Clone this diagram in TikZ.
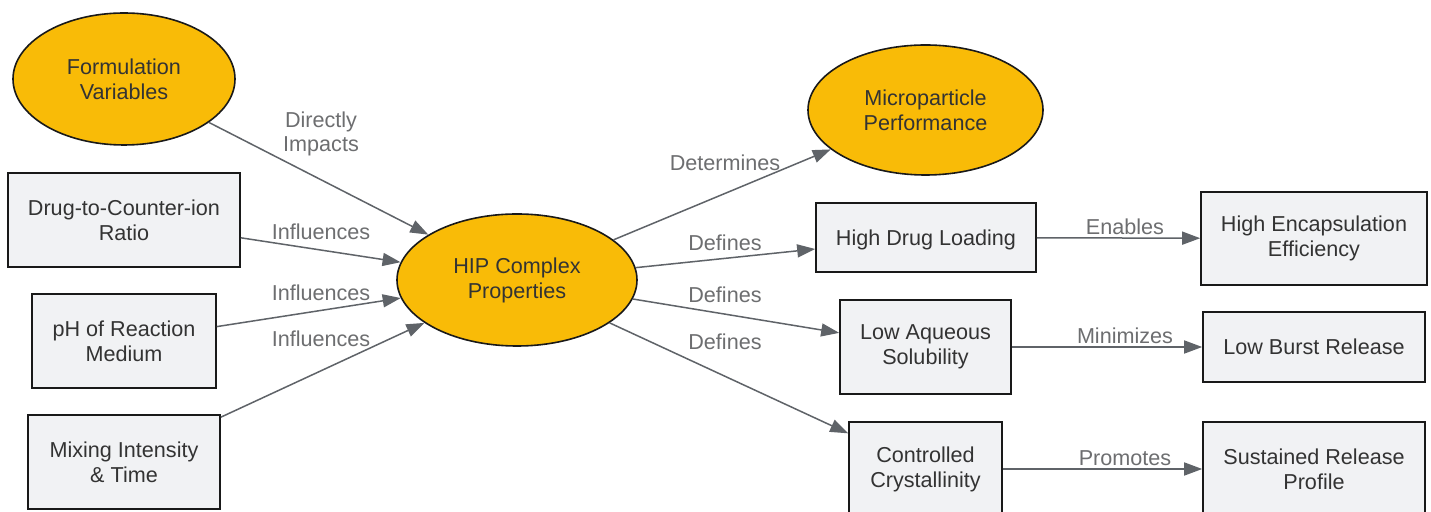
\documentclass[tikz,border=0pt]{standalone}
\usepackage{fontspec}
\setmainfont{Liberation Sans}
\usetikzlibrary{arrows.meta,shapes.geometric}
\definecolor{orng}{HTML}{F9BB07}
\definecolor{boxfill}{HTML}{F1F2F4}
\definecolor{txt}{HTML}{333333}
\definecolor{edgec}{HTML}{5F6368}
\definecolor{lblc}{HTML}{6D6E70}
\tikzset{
  base/.style={draw=black!90, line width=0.8pt, text=txt, align=center, inner sep=0pt,
    font=\fontsize{10.8}{12.5}\selectfont},
  oval/.style={base, ellipse, fill=orng},
  rbox/.style={base, rectangle, fill=boxfill},
  sz/.style 2 args={minimum width=#1*0.5pt, minimum height=#2*0.5pt},
  conn/.style={draw=edgec, line width=0.75pt, -{Triangle[length=9pt,width=6.5pt]}},
  lbl/.style={text=lblc, align=center, inner sep=0pt, font=\fontsize{10.8}{12.2}\selectfont}
}
\begin{document}
\begin{tikzpicture}[x=0.5pt,y=-0.5pt]
\clip (0,0) rectangle (1431,512);
\fill[white] (0,0) rectangle (1431,512);
% nodes
\node[oval, sz={222}{132}] (fv) at (124,79) {Formulation\\Variables};
\node[rbox, sz={232}{94}] (dcr) at (124,220) {Drug-to-Counter-ion\\Ratio};
\node[rbox, sz={184}{94}] (ph) at (124,341) {pH of Reaction\\Medium};
\node[rbox, sz={192}{94}] (mix) at (124,462) {Mixing Intensity\\\& Time};
\node[oval, sz={240}{132}] (hip) at (517,280) {HIP Complex\\Properties};
\node[oval, sz={235}{130}] (mp) at (925.5,110) {Microparticle\\Performance};
\node[rbox, sz={220}{69}, text depth=0pt] (hdl) at (926,237.5) {High Drug Loading};
\node[rbox, sz={171}{94}] (las) at (925.5,347) {Low Aqueous\\Solubility};
\node[rbox, sz={153}{94}] (cc) at (925.5,469) {Controlled\\Crystallinity};
\node[rbox, sz={226}{93}] (hee) at (1314,238.5) {High Encapsulation\\Efficiency};
\node[rbox, sz={222}{70}] (lbr) at (1314,347) {Low Burst Release};
\node[rbox, sz={222}{94}] (srp) at (1314,469) {Sustained Release\\Profile};
% connectors
\draw[conn] (fv) -- (hip);
\draw[conn] (dcr) -- (hip);
\draw[conn] (ph) -- (hip);
\draw[conn] (mix) -- (hip);
\draw[conn] (hip) -- (mp);
\draw[conn] (hip) -- (hdl);
\draw[conn] (hip) -- (las);
\draw[conn] (hip) -- (cc);
\draw[conn] (hdl) -- (hee);
\draw[conn] (las) -- (lbr);
\draw[conn] (cc) -- (srp);
% labels
\node[lbl] (l1) at (321,134) {Directly\\Impacts};
\node[lbl] (l2) at (321,232) {Influences};
\node[lbl] (l3) at (321,293) {Influences};
\node[lbl] (l4) at (321,339) {Influences};
\node[lbl] (l5) at (725,163) {Determines};
\node[lbl] (l6) at (725,243) {Defines};
\node[lbl] (l7) at (725,295) {Defines};
\node[lbl] (l8) at (725,342) {Defines};
\node[lbl] (l9) at (1125,227) {Enables};
\node[lbl] (l10) at (1125,336) {Minimizes};
\node[lbl] (l11) at (1125,458) {Promotes};
\end{tikzpicture}
\end{document}
